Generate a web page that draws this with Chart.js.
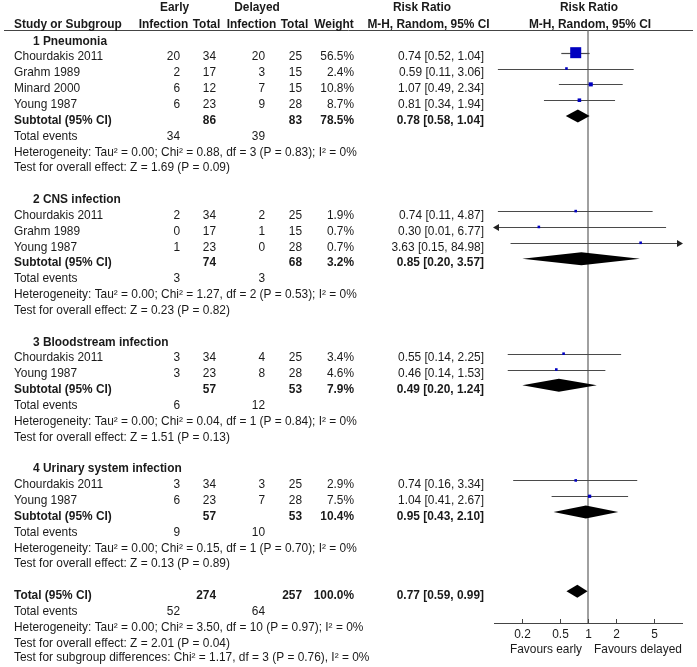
<!DOCTYPE html>
<html>
<head>
<meta charset="utf-8">
<script src="https://cdn.jsdelivr.net/npm/chart.js@4.4.1/dist/chart.umd.min.js"></script>
<style>
body { margin: 0; background: #fff; }
</style>
</head>
<body>
<canvas id="container" width="697" height="667"></canvas>
<script>
// subgroups
var groupNames = ['1 Pneumonia', '2 CNS infection', '3 Bloodstream infection', '4 Urinary system infection'];
var groupEarlyTotal = [86, 74, 57, 57];
var groupDelayedTotal = [83, 68, 53, 53];
var groupWeight = [78.5, 3.2, 7.9, 10.4];
var groupRR = [0.78, 0.85, 0.49, 0.95];
var groupLow = [0.58, 0.20, 0.20, 0.43];
var groupHigh = [1.04, 3.57, 1.24, 2.10];
var groupEarlyEvents = [34, 3, 6, 9];
var groupDelayedEvents = [39, 3, 12, 10];
var groupChi2 = [0.88, 1.27, 0.04, 0.15];
var groupDf = [3, 2, 1, 1];
var groupHetP = [0.83, 0.53, 0.84, 0.70];
var groupZ = [1.69, 0.23, 1.51, 0.13];
var groupZP = [0.09, 0.82, 0.13, 0.89];

// studies
var studyGroup = [0, 0, 0, 0, 1, 1, 1, 2, 2, 3, 3];
var studyNames = ['Chourdakis 2011', 'Grahm 1989', 'Minard 2000', 'Young 1987',
                  'Chourdakis 2011', 'Grahm 1989', 'Young 1987',
                  'Chourdakis 2011', 'Young 1987',
                  'Chourdakis 2011', 'Young 1987'];
var earlyEvents = [20, 2, 6, 6, 2, 0, 1, 3, 3, 3, 6];
var earlyTotal = [34, 17, 12, 23, 34, 17, 23, 34, 23, 34, 23];
var delayedEvents = [20, 3, 7, 9, 2, 1, 0, 4, 8, 3, 7];
var delayedTotal = [25, 15, 15, 28, 25, 15, 28, 25, 28, 25, 28];
var studyWeight = [56.5, 2.4, 10.8, 8.7, 1.9, 0.7, 0.7, 3.4, 4.6, 2.9, 7.5];
var studyRR = [0.74, 0.59, 1.07, 0.81, 0.74, 0.30, 3.63, 0.55, 0.46, 0.74, 1.04];
var studyLow = [0.52, 0.11, 0.49, 0.34, 0.11, 0.01, 0.15, 0.14, 0.14, 0.16, 0.41];
var studyHigh = [1.04, 3.06, 2.34, 1.94, 4.87, 6.77, 84.98, 2.25, 1.53, 3.34, 2.67];

// overall
var totalEarly = 274;
var totalDelayed = 257;
var totalRR = [0.77, 0.59, 0.99];
var totalEvents = [52, 64];
var totalHet = [3.50, 10, 0.97];
var totalZ = [2.01, 0.04];
var subgroupDiff = [1.17, 3, 0.76];

var axisTicks = [0.2, 0.5, 1, 2, 5];

// lay out rows
var rows = [];
var studyRow = [];
var groupRow = [];
var r = 0;
groupNames.forEach(function(name, g) {
  rows.push({kind: 'group', g: g, row: r++});
  for (var i = 0; i < studyNames.length; i++) {
    if (studyGroup[i] == g) {
      studyRow[i] = r;
      rows.push({kind: 'study', i: i, row: r++});
    }
  }
  groupRow[g] = r;
  rows.push({kind: 'subtotal', g: g, row: r++});
  rows.push({kind: 'events', g: g, row: r++});
  rows.push({kind: 'het', g: g, row: r++});
  rows.push({kind: 'test', g: g, row: r++});
  r++;
});
var totalRow = r;

function pct(v) { return v.toFixed(1) + '%'; }
function rrText(a, b, c) { return a.toFixed(2) + ' [' + b.toFixed(2) + ', ' + c.toFixed(2) + ']'; }

var FONT = '"Liberation Sans", Arial, sans-serif';
var TXT = '#1a1a1a';
var FS = 11.9;

var points = studyNames.map(function(n, i) {
  return {x: studyRR[i], y: studyRow[i]};
});
var radii = studyWeight.map(function(w) {
  var side = Math.max(2.6, 11 * Math.pow(w / 56.5, 0.6));
  return side / (2 * Math.SQRT1_2);
});

var forest = {
  id: 'forest',
  beforeDatasetsDraw: function(chart) {
    var ctx = chart.ctx, xs = chart.scales.x, ys = chart.scales.y, area = chart.chartArea;
    ctx.save();
    // header rule
    ctx.strokeStyle = '#444';
    ctx.lineWidth = 1;
    ctx.beginPath(); ctx.moveTo(4, 30.5); ctx.lineTo(693, 30.5); ctx.stroke();
    // line of no effect
    var x1 = xs.getPixelForValue(1);
    ctx.strokeStyle = '#808080';
    ctx.lineWidth = 1.5;
    ctx.beginPath(); ctx.moveTo(x1, 30.5); ctx.lineTo(x1, area.bottom); ctx.stroke();

    // confidence intervals
    ctx.strokeStyle = '#4a4a4a';
    ctx.lineWidth = 1.2;
    ctx.fillStyle = '#222';
    for (var i = 0; i < studyNames.length; i++) {
      var py = Math.round(ys.getPixelForValue(studyRow[i])) + 0.5;
      var lo = Math.max(studyLow[i], 0.1), hi = Math.min(studyHigh[i], 10);
      var pa = xs.getPixelForValue(lo), pb = xs.getPixelForValue(hi);
      ctx.beginPath(); ctx.moveTo(pa, py); ctx.lineTo(pb, py); ctx.stroke();
      if (studyLow[i] < 0.1) {
        ctx.beginPath(); ctx.moveTo(pa - 1, py); ctx.lineTo(pa + 5, py - 3.5); ctx.lineTo(pa + 5, py + 3.5); ctx.fill();
      }
      if (studyHigh[i] > 10) {
        ctx.beginPath(); ctx.moveTo(pb + 1, py); ctx.lineTo(pb - 5, py - 3.5); ctx.lineTo(pb - 5, py + 3.5); ctx.fill();
      }
    }

    // diamonds
    ctx.fillStyle = '#000';
    function diamond(row, est, lo, hi) {
      var py = ys.getPixelForValue(row);
      ctx.beginPath();
      ctx.moveTo(xs.getPixelForValue(lo), py);
      ctx.lineTo(xs.getPixelForValue(est), py - 6.5);
      ctx.lineTo(xs.getPixelForValue(hi), py);
      ctx.lineTo(xs.getPixelForValue(est), py + 6.5);
      ctx.closePath();
      ctx.fill();
    }
    for (var g = 0; g < groupNames.length; g++) {
      diamond(groupRow[g], groupRR[g], groupLow[g], groupHigh[g]);
    }
    diamond(totalRow, totalRR[0], totalRR[1], totalRR[2]);
    ctx.restore();
  },
  afterDraw: function(chart) {
    var ctx = chart.ctx, xs = chart.scales.x, ys = chart.scales.y, area = chart.chartArea;
    ctx.save();
    ctx.fillStyle = TXT;
    ctx.textBaseline = 'middle';
    var normal = FS + 'px ' + FONT, bold = 'bold ' + FS + 'px ' + FONT;
    function ty(row) { return ys.getPixelForValue(row) + 4.5; }
    function left(t, x, y, f) { ctx.font = f || normal; ctx.textAlign = 'left'; ctx.fillText(t, x, y); }
    function right(t, x, y, f) { ctx.font = f || normal; ctx.textAlign = 'right'; ctx.fillText(t, x, y); }
    function mid(t, x, y, f) { ctx.font = f || normal; ctx.textAlign = 'center'; ctx.fillText(t, x, y); }

    // headers
    var h1 = ty(-2) - 1.5, h2 = ty(-1) - 1;
    mid('Early', 174.5, h1, bold);
    mid('Delayed', 257, h1, bold);
    mid('Risk Ratio', 422, h1, bold);
    mid('Risk Ratio', 589, h1, bold);
    left('Study or Subgroup', 14, h2, bold);
    mid('Infection', 163.5, h2, bold);
    mid('Total', 206.5, h2, bold);
    mid('Infection', 251.5, h2, bold);
    mid('Total', 294.5, h2, bold);
    mid('Weight', 334, h2, bold);
    mid('M-H, Random, 95% CI', 428.5, h2, bold);
    mid('M-H, Random, 95% CI', 590, h2, bold);

    var cEE = 180, cET = 216, cDE = 265, cDT = 302, cW = 354, cRR = 484;
    rows.forEach(function(o) {
      var y = ty(o.row), g = o.g, i = o.i;
      if (o.kind == 'group') {
        left(groupNames[g], 33, y, bold);
      } else if (o.kind == 'study') {
        left(studyNames[i], 14, y);
        right(String(earlyEvents[i]), cEE, y);
        right(String(earlyTotal[i]), cET, y);
        right(String(delayedEvents[i]), cDE, y);
        right(String(delayedTotal[i]), cDT, y);
        right(pct(studyWeight[i]), cW, y);
        right(rrText(studyRR[i], studyLow[i], studyHigh[i]), cRR, y);
      } else if (o.kind == 'subtotal') {
        left('Subtotal (95% CI)', 14, y, bold);
        right(String(groupEarlyTotal[g]), cET, y, bold);
        right(String(groupDelayedTotal[g]), cDT, y, bold);
        right(pct(groupWeight[g]), cW, y, bold);
        right(rrText(groupRR[g], groupLow[g], groupHigh[g]), cRR, y, bold);
      } else if (o.kind == 'events') {
        left('Total events', 14, y);
        right(String(groupEarlyEvents[g]), cEE, y);
        right(String(groupDelayedEvents[g]), cDE, y);
      } else if (o.kind == 'het') {
        left('Heterogeneity: Tau\u00b2 = 0.00; Chi\u00b2 = ' + groupChi2[g].toFixed(2) + ', df = ' + groupDf[g] +
             ' (P = ' + groupHetP[g].toFixed(2) + '); I\u00b2 = 0%', 14, y);
      } else if (o.kind == 'test') {
        left('Test for overall effect: Z = ' + groupZ[g].toFixed(2) + ' (P = ' + groupZP[g].toFixed(2) + ')', 14, y);
      }
    });

    // overall
    var y = ty(totalRow);
    left('Total (95% CI)', 14, y, bold);
    right(String(totalEarly), cET, y, bold);
    right(String(totalDelayed), cDT, y, bold);
    right('100.0%', cW, y, bold);
    right(rrText(totalRR[0], totalRR[1], totalRR[2]), cRR, y, bold);
    y = ty(totalRow + 1);
    left('Total events', 14, y);
    right(String(totalEvents[0]), cEE, y);
    right(String(totalEvents[1]), cDE, y);
    left('Heterogeneity: Tau\u00b2 = 0.00; Chi\u00b2 = ' + totalHet[0].toFixed(2) + ', df = ' + totalHet[1] +
         ' (P = ' + totalHet[2].toFixed(2) + '); I\u00b2 = 0%', 14, ty(totalRow + 2));
    left('Test for overall effect: Z = ' + totalZ[0].toFixed(2) + ' (P = ' + totalZ[1].toFixed(2) + ')', 14, ty(totalRow + 3));
    left('Test for subgroup differences: Chi\u00b2 = ' + subgroupDiff[0].toFixed(2) + ', df = ' + subgroupDiff[1] +
         ' (P = ' + subgroupDiff[2].toFixed(2) + '), I\u00b2 = 0%', 14, ty(totalRow + 4) - 1);

    // axis ticks pointing up, with their labels
    ctx.strokeStyle = '#444';
    ctx.lineWidth = 1;
    axisTicks.forEach(function(v) {
      var px = Math.round(xs.getPixelForValue(v)) + 0.5;
      ctx.beginPath(); ctx.moveTo(px, area.bottom); ctx.lineTo(px, area.bottom - 4); ctx.stroke();
      mid(String(v), px, area.bottom + 12);
    });
    var one = xs.getPixelForValue(1);
    right('Favours early', one - 6, area.bottom + 27);
    left('Favours delayed', one + 6, area.bottom + 27);
    ctx.restore();
  }
};

new Chart(document.getElementById('container'), {
  type: 'scatter',
  data: {
    datasets: [{
      data: points,
      pointStyle: 'rect',
      pointRadius: radii,
      pointHoverRadius: radii,
      backgroundColor: '#0000c0',
      borderWidth: 0
    }]
  },
  options: {
    responsive: false,
    animation: false,
    devicePixelRatio: 1,
    layout: { padding: { left: 494, right: 15, top: 21, bottom: 24 } },
    plugins: { legend: { display: false }, tooltip: { enabled: false } },
    scales: {
      x: {
        type: 'logarithmic',
        min: 0.1,
        max: 10,
        afterBuildTicks: function(scale) {
          scale.ticks = axisTicks.map(function(v) { return {value: v}; });
        },
        afterFit: function(scale) { scale.height = 20; },
        grid: { display: false },
        border: { display: true, color: '#444', width: 1 },
        ticks: { display: false }
      },
      y: { type: 'linear', min: -1, max: 37, reverse: true, display: false }
    }
  },
  plugins: [forest]
});
</script>
</body>
</html>
